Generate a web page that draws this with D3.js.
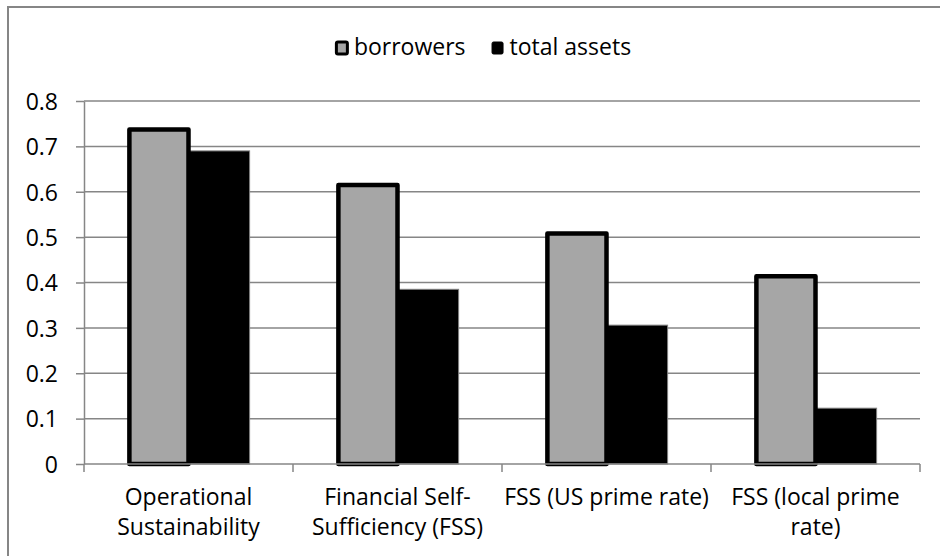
<!DOCTYPE html>
<html>
<head>
<meta charset="utf-8">
<script src="https://cdn.jsdelivr.net/npm/d3@7"></script>
<style>
  body { margin: 0; background: #fff; }
  text { font-family: "Open Sans", Lato, sans-serif; fill: #000; }
</style>
</head>
<body>
<div id="chart"></div>
<script>
// data
const categories = [
  ["Operational", "Sustainability"],
  ["Financial Self-", "Sufficiency (FSS)"],
  ["FSS (US prime rate)"],
  ["FSS (local prime", "rate)"]
];
const seriesNames = ["borrowers", "total assets"];
const borrowers = [0.737, 0.615, 0.508, 0.414];
const totalAssets = [0.690, 0.385, 0.306, 0.123];
const yTicks = [0, 0.1, 0.2, 0.3, 0.4, 0.5, 0.6, 0.7, 0.8];

function drawChart() {
    const W = 940, H = 556;
    const margin = { top: 101, right: 20, bottom: 92, left: 84 };
    const width = 920 - margin.left;
    const height = 464 - margin.top;
    const fontSize = "23px";

    const root = d3.select("#chart").append("svg")
        .attr("width", W)
        .attr("height", H);

    // outer chart border (runs off the right/bottom edge like the reference)
    root.append("rect")
        .attr("x", 8).attr("y", 7)
        .attr("width", 960).attr("height", 600)
        .attr("fill", "none")
        .attr("stroke", "#868686")
        .attr("stroke-width", 2);

    const svg = root.append("g")
        .attr("transform", "translate(" + margin.left + "," + margin.top + ")");

    const rows = categories.map((c, i) => ({ idx: i, label: c, values: [borrowers[i], totalAssets[i]] }));

    const x0 = d3.scaleBand()
        .domain(d3.range(categories.length))
        .range([0, width])
        .padding(0);

    const x1 = d3.scaleBand()
        .domain(seriesNames)
        .range([0, x0.bandwidth()])
        .paddingInner(0)
        .paddingOuter(0.71);

    const y = d3.scaleLinear()
        .domain([0, 0.8])
        .range([height, 0]);

    // gridlines
    svg.selectAll("line.grid")
        .data(yTicks.filter(d => d > 0))
        .enter().append("line")
        .attr("class", "grid")
        .attr("x1", 0).attr("x2", width)
        .attr("y1", d => y(d)).attr("y2", d => y(d))
        .attr("stroke", "#868686")
        .attr("stroke-width", 1.5);

    // y axis
    const yAxis = svg.append("g")
        .call(d3.axisLeft(y).tickValues(yTicks).tickSize(8).tickSizeOuter(0)
            .tickFormat(d => d === 0 ? "0" : d3.format(".1f")(d)));
    yAxis.select(".domain").attr("stroke", "#868686").attr("stroke-width", 1.5);
    yAxis.selectAll(".tick line").attr("stroke", "#868686").attr("stroke-width", 1.5);
    yAxis.selectAll(".tick text")
        .attr("x", -26)
        .attr("dy", "0.36em")
        .style("font-size", fontSize)
        .style("font-family", "'Open Sans', sans-serif")
        .attr("fill", "#000");

    // bars
    const groups = svg.selectAll("g.cat")
        .data(rows)
        .enter().append("g")
        .attr("class", "cat")
        .attr("transform", d => "translate(" + x0(d.idx) + ",0)");

    // total assets first so the borrowers outline sits on top
    groups.append("rect")
        .attr("x", x1("total assets"))
        .attr("y", d => y(d.values[1]))
        .attr("width", x1.bandwidth())
        .attr("height", d => height - y(d.values[1]))
        .attr("fill", "#000")
        .attr("stroke", "#7f7f7f")
        .attr("stroke-width", 1);

    groups.append("rect")
        .attr("x", x1("borrowers") + 2)
        .attr("y", d => y(d.values[0]))
        .attr("width", x1.bandwidth() - 2)
        .attr("height", d => height - y(d.values[0]))
        .attr("fill", "#a6a6a6")
        .attr("stroke", "#000")
        .attr("stroke-width", 4.5)
        .attr("stroke-linejoin", "round");

    // x axis
    const xAxis = svg.append("g")
        .attr("transform", "translate(0," + height + ")");
    xAxis.append("line")
        .attr("x1", 0).attr("x2", width)
        .attr("stroke", "#868686").attr("stroke-width", 1.5);
    xAxis.selectAll("line.tick")
        .data(d3.range(categories.length + 1))
        .enter().append("line")
        .attr("class", "tick")
        .attr("x1", d => d * x0.step()).attr("x2", d => d * x0.step())
        .attr("y1", 0).attr("y2", 8)
        .attr("stroke", "#868686").attr("stroke-width", 1.5);

    const labels = xAxis.selectAll("text.cat")
        .data(rows)
        .enter().append("text")
        .attr("class", "cat")
        .attr("text-anchor", "middle")
        .attr("x", d => x0(d.idx) + x0.bandwidth() / 2)
        .attr("y", 41)
        .style("font-size", fontSize);
    labels.selectAll("tspan")
        .data(d => d.label)
        .enter().append("tspan")
        .attr("x", function() { return d3.select(this.parentNode).attr("x"); })
        .attr("dy", (d, i) => i === 0 ? 0 : 30)
        .text(d => d);

    // legend, centred in the chart area
    const legendItems = [
        { name: "borrowers", fill: "#a6a6a6", sw: 3 },
        { name: "total assets", fill: "#000", sw: 1 }
    ];
    const legend = root.append("g");
    const items = legend.selectAll("g")
        .data(legendItems)
        .enter().append("g");
    items.append("rect")
        .attr("x", 1.5)
        .attr("y", 42)
        .attr("width", 11)
        .attr("height", 12)
        .attr("rx", 1.5)
        .attr("fill", d => d.fill)
        .attr("stroke", "#000")
        .attr("stroke-width", d => d.sw);
    items.append("text")
        .attr("x", 19)
        .attr("y", 55)
        .style("font-size", fontSize)
        .text(d => d.name);

    let offset = 0;
    items.each(function() {
        const w = 19 + d3.select(this).select("text").node().getComputedTextLength();
        d3.select(this).attr("transform", "translate(" + offset + ",0)");
        offset += w + 25;
    });
    const legendWidth = offset - 25;
    legend.attr("transform", "translate(" + (483 - legendWidth / 2) + ",0)");
}

drawChart();
</script>
</body>
</html>
